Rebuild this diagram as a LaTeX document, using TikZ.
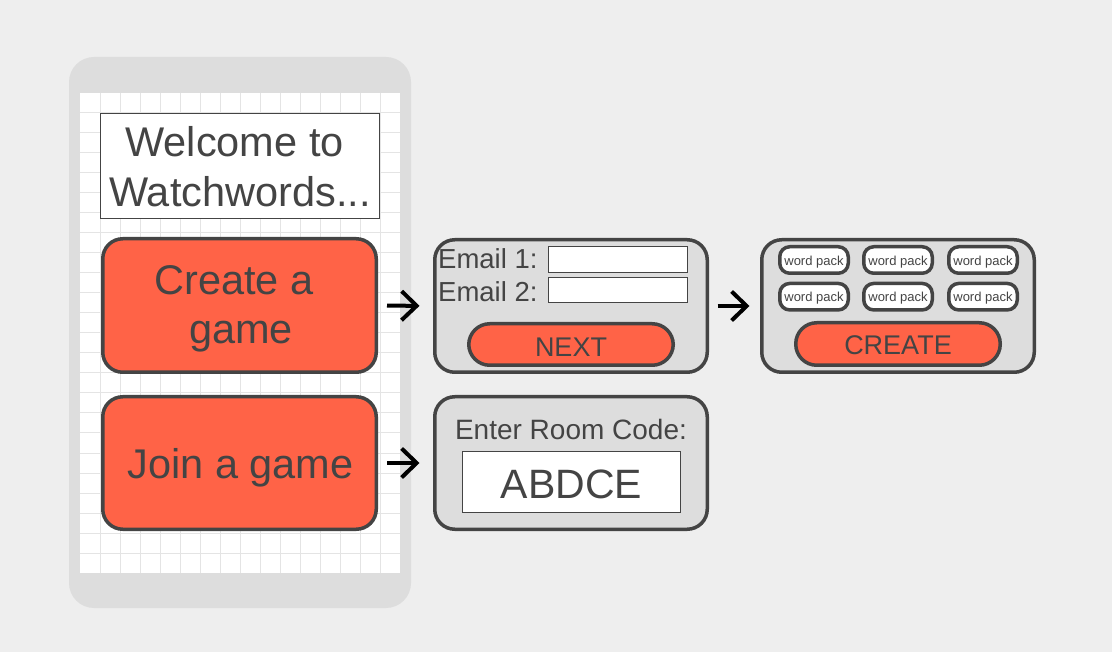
\documentclass[tikz,border=0pt]{standalone}
\usepackage{fontspec}
\setmainfont{Liberation Sans}
\usetikzlibrary{arrows.meta}
\definecolor{bgc}{HTML}{EEEEEE}
\definecolor{phonec}{HTML}{DDDDDD}
\definecolor{gridc}{HTML}{E4E4E4}
\definecolor{inkc}{HTML}{444444}
\definecolor{tomatoc}{HTML}{FF6347}
\tikzset{
  txt/.style={text=inkc, inner sep=0pt, anchor=base},
  big/.style={font=\fontsize{41.5}{50}\selectfont},
  mid/.style={font=\fontsize{27.5}{30}\selectfont},
  btn/.style={draw=inkc, line width=3.5pt, fill=tomatoc, rounded corners=20pt, inner sep=0pt},
  panel/.style={draw=inkc, line width=3.5pt, fill=phonec, rounded corners=20pt, inner sep=0pt},
  pill/.style={draw=inkc, line width=3.5pt, fill=tomatoc, rounded corners=21pt, inner sep=0pt},
  pack/.style={draw=inkc, line width=3.5pt, fill=white, rounded corners=10pt, inner sep=0pt, minimum width=68.5pt, minimum height=26.5pt},
  packtxt/.style={text=inkc, inner sep=0pt, anchor=base, font=\fontsize{13}{14}\selectfont},
  field/.style={draw=inkc, line width=1pt, fill=white, inner sep=0pt},
  flow/.style={draw=black, line width=4pt, -{Straight Barb[length=15pt,width=29pt,line width=4pt]}}
}
\begin{document}
\begin{tikzpicture}[x=1pt,y=-1pt]
\fill[bgc] (0,0) rectangle (1112,652);
\useasboundingbox (0,0) rectangle (1112,652);
% phone
\fill[phonec, rounded corners=25pt] (69,57) rectangle (411,608);
\fill[white] (80,93) rectangle (400,573);
\foreach \gx in {100,120,...,380} \draw[gridc, line width=1pt] (\gx,93) -- (\gx,573);
\foreach \gy in {113,133,...,553} \draw[gridc, line width=1pt] (80,\gy) -- (400,\gy);
% welcome
\node[field, minimum width=279pt, minimum height=105pt] (welcome) at (240,166) {};
\node[txt, big] (w1) at (234.5,157) {Welcome to};
\node[txt, big] (w2) at (240,207) {Watchwords...};
% buttons
\node[btn, minimum width=273.5pt, minimum height=133.5pt] (create) at (239.5,305.5) {};
\node[txt, big] (c1) at (234,295) {Create a};
\node[txt, big] (c2) at (241,343.3) {game};
\node[btn, minimum width=273.5pt, minimum height=132.5pt] (join) at (239.5,463) {};
\node[txt, big] (j1) at (240.5,478.3) {Join a game};
% email panel
\node[panel, minimum width=272.5pt, minimum height=132.5pt] (email) at (571,306) {};
\node[txt, mid, anchor=base west] (e1) at (438,268.3) {Email 1:};
\node[txt, mid, anchor=base west] (e2) at (438,301.7) {Email 2:};
\node[field, minimum width=139pt, minimum height=26pt] (f1) at (617.5,260) {};
\node[field, minimum width=139pt, minimum height=25pt] (f2) at (617.5,290.5) {};
\node[pill, minimum width=204.5pt, minimum height=41.5pt] (next) at (571,344.5) {};
\node[txt, font=\fontsize{27}{30}\selectfont] (nextt) at (571,356.7) {NEXT};
% create panel
\node[panel, minimum width=272.5pt, minimum height=132.5pt] (cpanel) at (898,306) {};
\node[pack] (p1) at (814,260) {};
\node[pack] (p2) at (898,260) {};
\node[pack] (p3) at (983,260) {};
\node[pack] (p4) at (814,296.7) {};
\node[pack] (p5) at (898,296.7) {};
\node[pack] (p6) at (983,296.7) {};
\foreach \p in {p1,p2,p3,p4,p5,p6} \node[packtxt] at ([yshift=-5.3pt]\p.center) {word pack};
\node[pill, minimum width=204.5pt, minimum height=42.5pt] (cbtn) at (898,344) {};
\node[txt, font=\fontsize{27}{30}\selectfont] (cbtnt) at (898,355) {CREATE};
% room panel
\node[panel, minimum width=272.5pt, minimum height=132.5pt] (room) at (571,463) {};
\node[txt, font=\fontsize{28}{30}\selectfont] (roomt) at (571,439) {Enter Room Code:};
\node[field, minimum width=218pt, minimum height=61pt] (code) at (571.5,481.7) {};
\node[txt, font=\fontsize{41}{45}\selectfont] (codet) at (571.5,498.3) {ABDCE};
% arrows
\draw[flow, shorten <=9pt, shorten >=13.5pt] (create.east) -- (email.west);
\draw[flow, shorten <=9pt, shorten >=13.5pt] (join.east) -- (room.west);
\draw[flow, shorten <=8.5pt, shorten >=10.5pt] (email.east) -- (cpanel.west);
\end{tikzpicture}
\end{document}
